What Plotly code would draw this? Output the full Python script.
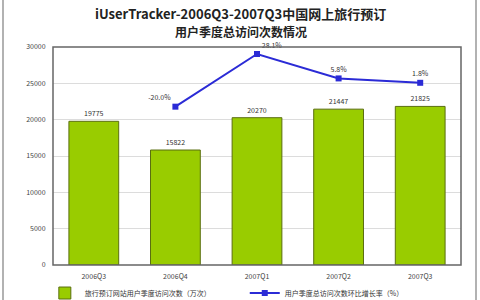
import plotly.graph_objects as go

quarters = ["2006Q3", "2006Q4", "2007Q1", "2007Q2", "2007Q3"]
visits = [19775, 15822, 20270, 21447, 21825]
growth_quarters = ["2006Q4", "2007Q1", "2007Q2", "2007Q3"]
growth = [-20.0, 28.1, 5.8, 1.8]
growth_labels = ["-20.0%", "28.1%", "5.8%", "1.8%"]
y_ticks = [0, 5000, 10000, 15000, 20000, 25000, 30000]
title_lines = ["iUserTracker-2006Q3-2007Q3中国网上旅行预订", "用户季度总访问次数情况"]

FONT = "Noto Sans CJK SC"

fig = go.Figure()
fig.add_trace(go.Bar(
    x=quarters, y=visits, name="旅行预订网站用户季度访问次数（万次）",
    marker=dict(color="#99cc00", line=dict(color="#5a6e10", width=1)),
    width=0.61,
    text=[str(v) for v in visits], textposition="outside",
    textfont=dict(size=7, color="#333", family=FONT),
    cliponaxis=False, legend="legend",
))
fig.add_trace(go.Scatter(
    x=growth_quarters, y=growth, name="用户季度总访问次数环比增长率（%）",
    yaxis="y2", mode="lines+markers+text",
    line=dict(color="#2b2bd6", width=2),
    marker=dict(symbol="square", size=6, color="#2b2bd6"),
    text=growth_labels,
    textposition=["top left", "top right", "top center", "top center"],
    textfont=dict(size=7, color="#333", family=FONT),
    cliponaxis=False, legend="legend2",
))

legend_common = dict(orientation="h", xanchor="left", y=-0.062, yanchor="top",
                     font=dict(size=7, color="#333", family=FONT), itemwidth=30,
                     bgcolor="rgba(0,0,0,0)")
fig.update_layout(
    width=480, height=300,
    margin=dict(l=53, r=19, t=47, b=35, autoexpand=False),
    paper_bgcolor="white", plot_bgcolor="white",
    font=dict(family=FONT, size=7, color="#444"),
    xaxis=dict(showgrid=False, tickfont=dict(size=7, color="#444"), ticks="outside", ticklen=5,
               tickcolor="rgba(0,0,0,0)", showline=False, automargin=False),
    yaxis=dict(range=[0, 30000], tickvals=y_ticks, tickformat="d", showgrid=True, gridcolor="#dcdcdc",
               gridwidth=1, tickfont=dict(size=7, color="#444"), zeroline=False, showline=False,
               ticks="outside", ticklen=5, tickcolor="rgba(0,0,0,0)", automargin=False),
    yaxis2=dict(overlaying="y", side="right", range=[-164.6, 34.5], visible=False),
    showlegend=True,
    legend=dict(x=-0.02, **legend_common),
    legend2=dict(x=0.47, **legend_common),
)
fig.add_annotation(text="<b>" + title_lines[0] + "</b>", xref="paper", yref="paper", x=0.46, y=1 + (47 - 13) / 218,
                   showarrow=False, xanchor="center", yanchor="middle",
                   font=dict(family=FONT, size=13, color="#222"))
fig.add_annotation(text="<b>" + title_lines[1] + "</b>", xref="paper", yref="paper", x=0.46, y=1 + (47 - 31) / 218,
                   showarrow=False, xanchor="center", yanchor="middle",
                   font=dict(family=FONT, size=12, color="#222"))
fig.add_shape(type="rect", xref="paper", yref="paper", x0=0, x1=1, y0=0, y1=1,
              line=dict(color="#666", width=1.5), layer="above")
fig.add_shape(type="line", xref="paper", yref="paper", x0=-50/408, x1=-50/408, y0=-35/218, y1=1+47/218,
              line=dict(color="#999", width=1.5))
fig.add_shape(type="line", xref="paper", yref="paper", x0=1+15/408, x1=1+15/408, y0=-35/218, y1=1+47/218,
              line=dict(color="#999", width=1.5))

fig.write_html("out.html")
